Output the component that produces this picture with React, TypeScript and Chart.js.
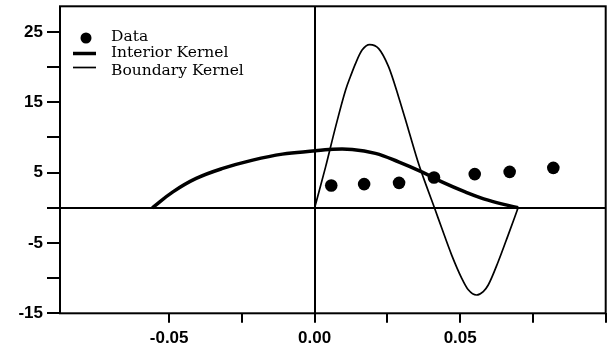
import { useEffect, useRef } from 'react';
import { Chart, registerables } from 'chart.js';

Chart.register(...registerables);

// ---- Data ----
const dataX = [0.0057, 0.017, 0.029, 0.041, 0.055, 0.067, 0.082];
const dataY = [3.18, 3.37, 3.55, 4.31, 4.79, 5.11, 5.68];

const interiorX = [-0.0558, -0.0487, -0.0407, -0.0316, -0.0213, -0.0111, 0.0003, 0.0049, 0.0129, 0.0209, 0.0288, 0.0368, 0.0437, 0.0517, 0.0596, 0.0699];
const interiorY = [0, 2.27, 4.18, 5.6, 6.78, 7.63, 8.1, 8.3, 8.3, 7.73, 6.53, 5.11, 3.69, 2.27, 1.09, 0];

const boundaryX = [0, 0.00376, 0.00719, 0.01061, 0.01232, 0.01403, 0.01629, 0.01892, 0.022, 0.02542, 0.02884, 0.03227, 0.03569, 0.03842, 0.04116, 0.04366, 0.04708, 0.0505, 0.05279, 0.05563, 0.05793, 0.05964, 0.06306, 0.06648, 0.0699];
const boundaryY = [0, 5.82, 11.51, 16.72, 18.7, 20.51, 22.43, 23.21, 22.64, 20.03, 15.77, 11.04, 6.31, 3.08, 0, -2.88, -6.72, -9.99, -11.66, -12.4, -11.92, -10.98, -7.67, -3.88, 0];

const seriesLabels = ['Data', 'Interior Kernel', 'Boundary Kernel'];

const xTickValues = [-0.05, -0.025, 0, 0.025, 0.05, 0.075, 0.1];
const xLabelValues = [-0.05, 0, 0.05];
const yTickValues = [-15, -10, -5, 0, 5, 10, 15, 20, 25];
const yLabelValues = [25, 15, 5, -5, -15];

const xMin = -0.0875;
const xMax = 0.1;
const yMin = -15;
const yMax = 28.65;

const toPts = (xs: number[], ys: number[]) => xs.map((x, i) => ({ x, y: ys[i] }));
const near = (a: number, b: number) => Math.abs(a - b) < 1e-9;

const framePlugin = {
  id: 'frame',
  afterDraw(chart: any) {
    const { ctx, chartArea } = chart;
    ctx.save();
    ctx.strokeStyle = '#000';
    ctx.lineWidth = 2;
    ctx.strokeRect(chartArea.left, chartArea.top, chartArea.right - chartArea.left, chartArea.bottom - chartArea.top);
    ctx.restore();
  },
};

const legendPlugin = {
  id: 'customLegend',
  afterDraw(chart: any) {
    const { ctx } = chart;
    ctx.save();
    ctx.fillStyle = '#000';
    ctx.strokeStyle = '#000';
    ctx.beginPath();
    ctx.arc(86, 38, 5.5, 0, Math.PI * 2);
    ctx.fill();
    ctx.lineWidth = 3.5;
    ctx.beginPath();
    ctx.moveTo(73, 53.5);
    ctx.lineTo(96, 53.5);
    ctx.stroke();
    ctx.lineWidth = 1.7;
    ctx.beginPath();
    ctx.moveTo(73, 67.5);
    ctx.lineTo(96, 67.5);
    ctx.stroke();
    ctx.font = '15.5px "DejaVu Serif"';
    ctx.textBaseline = 'alphabetic';
    ctx.textAlign = 'left';
    const baselines = [40.7, 57.3, 75];
    seriesLabels.forEach((t, i) => ctx.fillText(t, 111, baselines[i]));
    ctx.restore();
  },
};

export default function App() {
  const ref = useRef<HTMLCanvasElement | null>(null);

  useEffect(() => {
    if (!ref.current) return;
    const tickFont = { family: '"Liberation Sans", Arial, sans-serif', weight: 'bold' as const, size: 17 };
    const chart = new Chart(ref.current, {
      type: 'scatter',
      data: {
        datasets: [
          {
            label: seriesLabels[0],
            data: toPts(dataX, dataY),
            pointRadius: 6.3,
            pointBackgroundColor: '#000',
            pointBorderWidth: 0,
            showLine: false,
          },
          {
            label: seriesLabels[1],
            data: toPts(interiorX, interiorY),
            showLine: true,
            borderColor: '#000',
            borderWidth: 3.5,
            pointRadius: 0,
            tension: 0.4,
          },
          {
            label: seriesLabels[2],
            data: toPts(boundaryX, boundaryY),
            showLine: true,
            borderColor: '#000',
            borderWidth: 1.7,
            pointRadius: 0,
            cubicInterpolationMode: 'monotone',
          },
        ],
      },
      options: {
        animation: false,
        responsive: false,
        devicePixelRatio: 1,
        layout: { padding: { left: 0, top: 6, right: 4, bottom: 0 } },
        plugins: { legend: { display: false }, tooltip: { enabled: false } },
        scales: {
          x: {
            type: 'linear',
            min: xMin,
            max: xMax,
            border: { display: false },
            afterBuildTicks: (scale: any) => {
              scale.ticks = xTickValues.map((v) => ({ value: v }));
            },
            afterFit: (scale: any) => {
              scale.height = 349 - 313.3;
              scale.paddingLeft = 0;
              scale.paddingRight = 0;
            },
            grid: {
              drawOnChartArea: true,
              drawTicks: true,
              tickLength: 9.5,
              lineWidth: 2,
              tickWidth: 2,
              color: (c: any) => (c.tick && near(c.tick.value, 0) ? '#000' : 'rgba(0,0,0,0)'),
              tickColor: '#000',
            },
            ticks: {
              color: '#000',
              font: tickFont,
              padding: 5,
              maxRotation: 0,
              autoSkip: false,
              callback: (v: any) => {
                const n = Number(v);
                return xLabelValues.some((l) => near(l, n)) ? n.toFixed(2) : '';
              },
            },
          },
          y: {
            type: 'linear',
            min: yMin,
            max: yMax,
            border: { display: false },
            afterBuildTicks: (scale: any) => {
              scale.ticks = yTickValues.map((v) => ({ value: v }));
            },
            afterFit: (scale: any) => {
              scale.width = 60;
              scale.paddingTop = 0;
              scale.paddingBottom = 0;
            },
            grid: {
              drawOnChartArea: true,
              drawTicks: true,
              tickLength: 13,
              lineWidth: 2,
              tickWidth: 2,
              color: (c: any) => (c.tick && near(c.tick.value, 0) ? '#000' : 'rgba(0,0,0,0)'),
              tickColor: '#000',
            },
            ticks: {
              color: '#000',
              font: tickFont,
              padding: 4,
              autoSkip: false,
              callback: (v: any) => {
                const n = Number(v);
                return yLabelValues.some((l) => near(l, n)) ? String(n) : '';
              },
            },
          },
        },
      },
      plugins: [framePlugin, legendPlugin],
    });
    return () => chart.destroy();
  }, []);

  return (
    <div style={{ position: 'absolute', left: 0, top: 0, width: 612, height: 349, background: '#fff' }}>
      <canvas ref={ref} width={612} height={349} style={{ display: 'block' }} />
    </div>
  );
}
